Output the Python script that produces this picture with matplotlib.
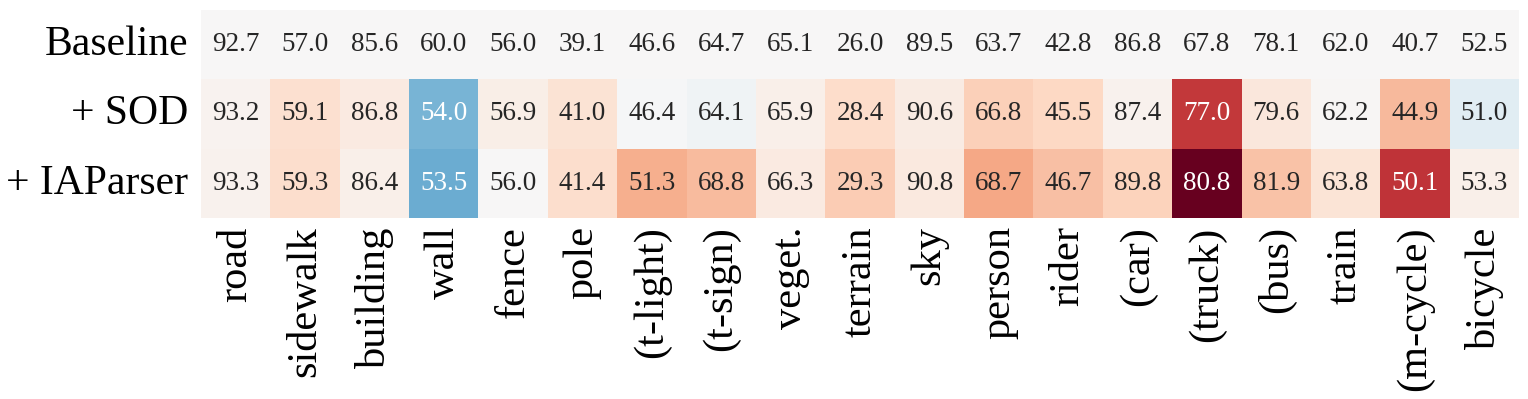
import numpy as np
import matplotlib
matplotlib.use("Agg")
import matplotlib.pyplot as plt
import seaborn as sns

classes = ["road", "sidewalk", "building", "wall", "fence", "pole", "(t-light)", "(t-sign)",
           "veget.", "terrain", "sky", "person", "rider", "(car)", "(truck)", "(bus)",
           "train", "(m-cycle)", "bicycle"]
methods = ["Baseline", "+ SOD", "+ IAParser"]

baseline = [92.7, 57.0, 85.6, 60.0, 56.0, 39.1, 46.6, 64.7, 65.1, 26.0,
            89.5, 63.7, 42.8, 86.8, 67.8, 78.1, 62.0, 40.7, 52.5]
sod = [93.2, 59.1, 86.8, 54.0, 56.9, 41.0, 46.4, 64.1, 65.9, 28.4,
       90.6, 66.8, 45.5, 87.4, 77.0, 79.6, 62.2, 44.9, 51.0]
iaparser = [93.3, 59.3, 86.4, 53.5, 56.0, 41.4, 51.3, 68.8, 66.3, 29.3,
            90.8, 68.7, 46.7, 89.8, 80.8, 81.9, 63.8, 50.1, 53.3]

scores = np.array([baseline, sod, iaparser])
# colour by gain over the baseline
diff = scores - scores[0]
lim = np.abs(diff).max()

plt.rcParams['font.family'] = ['Liberation Serif', 'DejaVu Serif']

fig = plt.figure(figsize=(15.28, 3.99), dpi=100)
ax = fig.add_axes([201 / 1528, 1 - 218 / 399, 1318 / 1528, 208 / 399])

sns.heatmap(diff, ax=ax, cmap="RdBu_r", vmin=-lim, vmax=lim, cbar=False,
            annot=scores, fmt=".1f", annot_kws={"fontsize": 19.5},
            xticklabels=classes, yticklabels=methods)

# darker cells get white numbers
for txt, d in zip(ax.texts, diff.flatten()):
    txt.set_color("white" if abs(d) >= 6 else "#262626")

ax.tick_params(axis="both", length=0)
ax.tick_params(axis="x", pad=6)
ax.tick_params(axis="y", pad=9)
ax.set_xticklabels(classes, rotation=90, fontsize=30.5)
ax.set_yticklabels(methods, rotation=0, fontsize=30)

fig.savefig("out.png", dpi=100)
